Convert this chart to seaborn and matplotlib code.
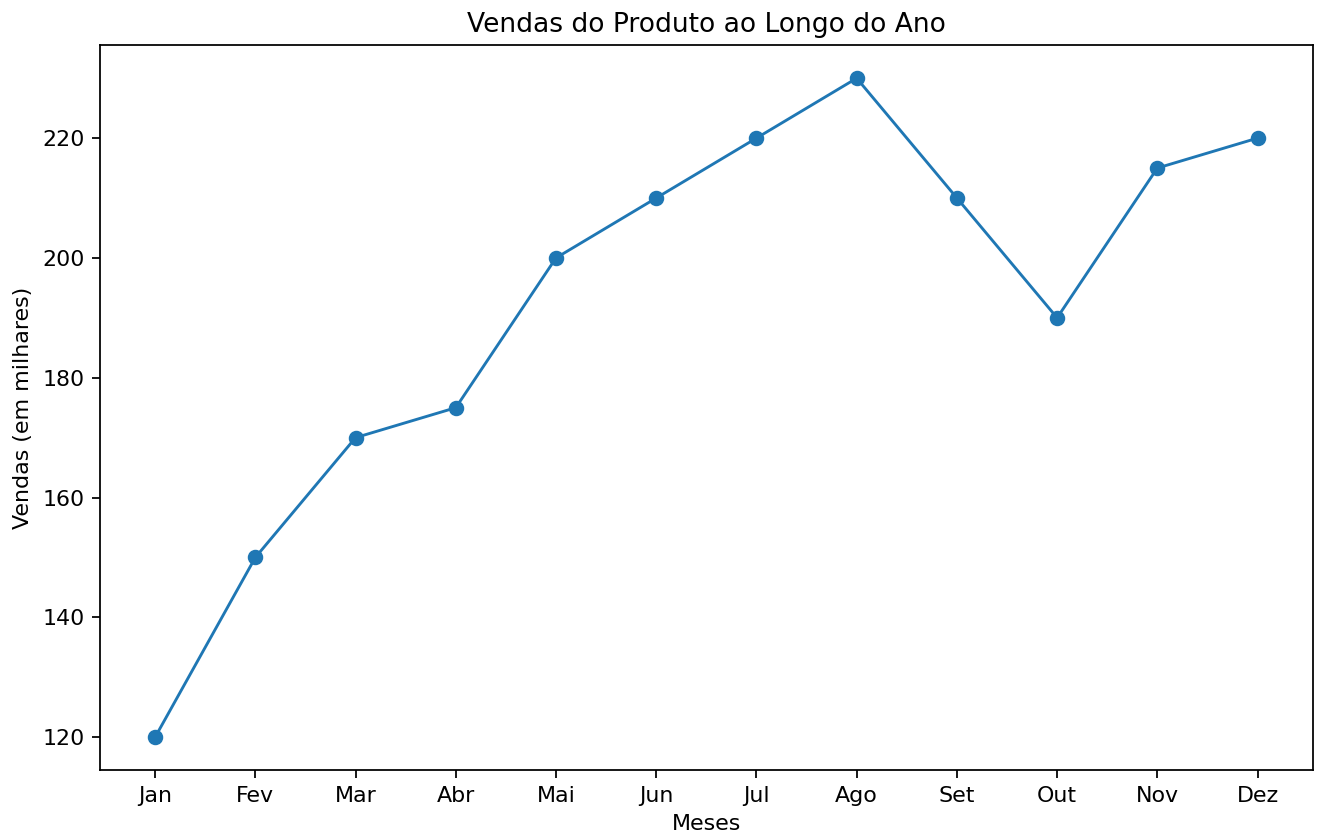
import matplotlib
matplotlib.use('Agg')
import matplotlib.pyplot as plt
import seaborn as sns
import pandas as pd

# dados
meses = ['Jan', 'Fev', 'Mar', 'Abr', 'Mai', 'Jun', 'Jul', 'Ago', 'Set', 'Out', 'Nov', 'Dez']
vendas = [120, 150, 170, 175, 200, 210, 220, 230, 210, 190, 215, 220]

df = pd.DataFrame({'Meses': meses, 'Vendas': vendas})

dpi = 159
fig = plt.figure(figsize=(1321 / dpi, 838 / dpi), dpi=dpi)
ax = fig.add_axes([0.0757, 0.081, 0.918, 0.865])

sns.lineplot(data=df, x='Meses', y='Vendas', marker='o', markersize=6,
             linewidth=1.3, color='#1f77b4', markeredgecolor='#1f77b4',
             markeredgewidth=1, ax=ax, sort=False)

ax.set_title('Vendas do Produto ao Longo do Ano', fontsize=12)
ax.set_xlabel('Meses')
ax.set_ylabel('Vendas (em milhares)')

fig.savefig('out.png', dpi=dpi)
